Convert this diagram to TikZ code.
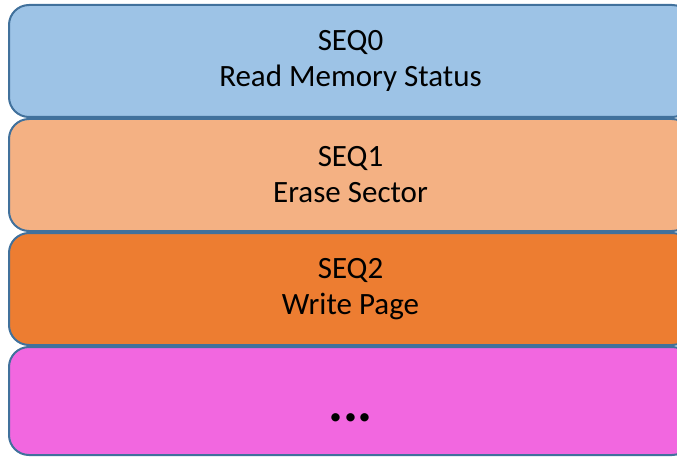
\documentclass[tikz,border=0pt]{standalone}
\usepackage{fontspec}
\setmainfont{Carlito}
\usetikzlibrary{positioning}

\definecolor{seqblue}{HTML}{9DC3E6}
\definecolor{seqpeach}{HTML}{F4B183}
\definecolor{seqorange}{HTML}{ED7D31}
\definecolor{seqpink}{HTML}{F267E0}
\definecolor{seqedge}{HTML}{41719C}

\begin{document}
\begin{tikzpicture}[x=1pt, y=1pt,
  seqbox/.style={draw=seqedge, line width=2pt, rounded corners=20pt,
    minimum width=683pt, minimum height=112pt, inner sep=0pt, outer sep=0pt,
    align=center, font=\fontsize{31}{36}\selectfont}]
\useasboundingbox (0,0) rectangle (677,-457);

% stack of sequence steps
\node[seqbox, fill=seqblue, anchor=north west] (seq0) at (9,-5) {SEQ0\\Read Memory Status};
\node[seqbox, fill=seqpeach, below=2pt of seq0] (seq1) {SEQ1\\Erase Sector};
\node[seqbox, fill=seqorange, below=2pt of seq1] (seq2) {SEQ2\\Write Page};
\node[seqbox, fill=seqpink, below=2pt of seq2, minimum height=108pt,
  text height=0pt, text depth=0pt, font=\fontsize{56}{60}\bfseries]
  (seqmore) {\raisebox{-20pt}{...}};
\end{tikzpicture}
\end{document}
